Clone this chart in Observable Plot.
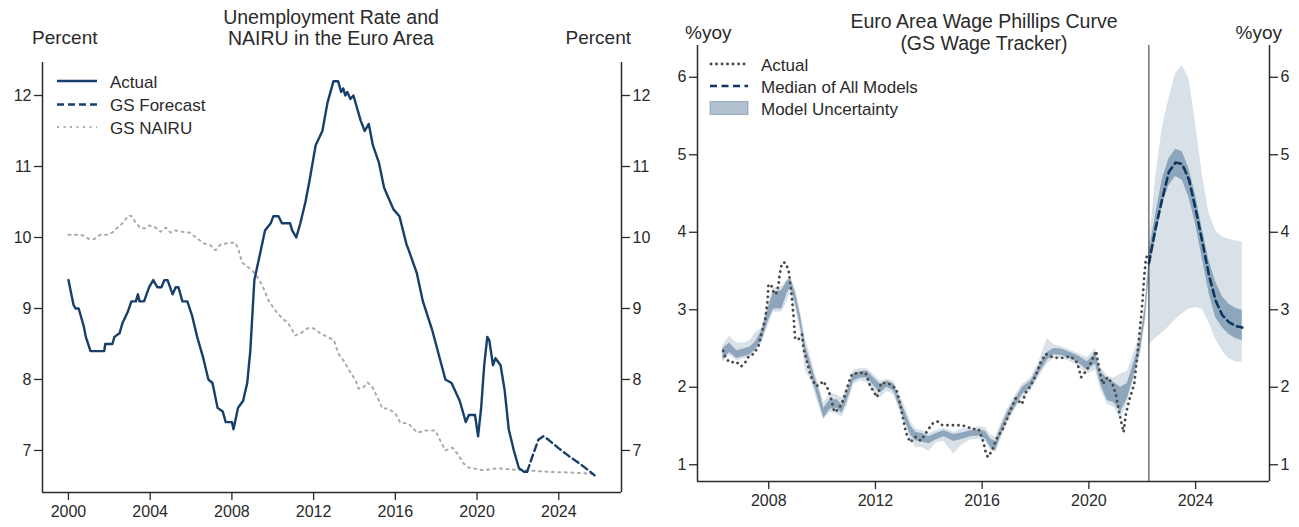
<!DOCTYPE html>
<html><head><meta charset="utf-8">
<script src="https://cdn.jsdelivr.net/npm/d3@7"></script>
<script src="https://cdn.jsdelivr.net/npm/@observablehq/plot@0.6"></script>
<style>
body{margin:0;background:#fff;font-family:"Liberation Sans",Arial,sans-serif;}
#wrap{position:relative;width:1299px;height:527px;overflow:hidden;background:#fff;}
#left{position:absolute;left:0;top:0;}
#right{position:absolute;left:650px;top:0;}
#left svg,#right svg{overflow:visible;}
#overlay{position:absolute;left:0;top:0;pointer-events:none;}
</style></head><body>
<div id="wrap"><div id="left"></div><div id="right"></div>
<svg id="overlay" width="1299" height="527"></svg></div>
<script>
// ---------- Left panel data ----------
const unempDates = [2000.0,2000.25,2000.35,2000.5,2000.75,2000.85,2001.08,2001.75,2001.8,2002.15,2002.25,2002.5,2002.65,2002.9,2003.08,2003.3,2003.4,2003.48,2003.7,2003.95,2004.15,2004.35,2004.55,2004.7,2004.85,2005.1,2005.25,2005.38,2005.58,2005.82,2006.05,2006.3,2006.6,2006.85,2007.05,2007.3,2007.55,2007.7,2008.0,2008.08,2008.3,2008.55,2008.75,2008.9,2009.1,2009.4,2009.62,2009.9,2010.03,2010.28,2010.45,2010.85,2010.95,2011.15,2011.35,2011.6,2011.8,2012.1,2012.43,2012.68,2012.97,2013.2,2013.35,2013.45,2013.55,2013.65,2013.8,2013.95,2014.3,2014.5,2014.7,2014.9,2015.2,2015.45,2015.9,2016.2,2016.55,2016.62,2017.05,2017.35,2017.8,2018.45,2018.75,2019.15,2019.45,2019.6,2019.9,2020.05,2020.2,2020.35,2020.5,2020.6,2020.78,2020.9,2021.15,2021.35,2021.55,2021.8,2022.05,2022.3,2022.45];
const unempValues = [9.4,9.05,9.0,9.0,8.75,8.6,8.4,8.4,8.5,8.5,8.6,8.65,8.8,8.95,9.1,9.1,9.2,9.1,9.1,9.3,9.4,9.3,9.3,9.4,9.4,9.2,9.3,9.3,9.1,9.1,8.9,8.6,8.3,8.0,7.95,7.6,7.55,7.4,7.4,7.3,7.6,7.7,7.95,8.4,9.4,9.8,10.1,10.2,10.3,10.3,10.2,10.2,10.1,10.0,10.2,10.5,10.8,11.3,11.5,11.9,12.2,12.2,12.05,12.1,12.0,12.05,11.95,12.0,11.65,11.5,11.6,11.3,11.05,10.7,10.4,10.3,9.9,9.85,9.5,9.1,8.7,8.0,7.95,7.7,7.4,7.5,7.5,7.2,7.6,8.2,8.6,8.55,8.2,8.3,8.2,7.85,7.3,7.0,6.75,6.7,6.7];
const forecastDates = [2022.45,2022.75,2023.0,2023.25,2023.5,2024.0,2024.5,2025.0,2025.5,2025.75];
const forecastValues = [6.7,6.95,7.15,7.2,7.15,7.03,6.92,6.82,6.71,6.65];
const nairuDates = [2000.0,2000.3,2000.7,2001.0,2001.27,2001.57,2001.9,2002.15,2002.4,2002.64,2002.94,2003.1,2003.3,2003.53,2003.75,2003.96,2004.27,2004.5,2004.76,2005.0,2005.24,2005.58,2005.92,2006.3,2006.6,2006.95,2007.2,2007.44,2007.78,2008.17,2008.33,2008.5,2008.8,2009.15,2009.5,2009.8,2010.13,2010.47,2010.77,2011.1,2011.36,2011.7,2012.0,2012.33,2012.68,2013.0,2013.2,2013.55,2013.8,2014.05,2014.2,2014.44,2014.64,2014.88,2015.12,2015.37,2015.66,2016.0,2016.25,2016.64,2017.08,2017.47,2017.96,2018.2,2018.45,2018.8,2019.1,2019.33,2019.58,2019.82,2020.3,2021.0,2021.78,2022.5,2023.44,2024.5,2025.75];
const nairuValues = [10.04,10.04,10.03,9.98,9.98,10.04,10.04,10.07,10.14,10.2,10.31,10.3,10.21,10.13,10.13,10.17,10.14,10.08,10.14,10.07,10.1,10.08,10.07,9.99,9.92,9.89,9.82,9.9,9.92,9.93,9.82,9.65,9.58,9.49,9.32,9.11,8.97,8.86,8.79,8.62,8.65,8.72,8.72,8.65,8.6,8.55,8.37,8.23,8.1,7.99,7.87,7.89,7.96,7.89,7.75,7.59,7.59,7.52,7.39,7.38,7.25,7.28,7.28,7.14,7.0,7.04,6.93,6.82,6.76,6.75,6.72,6.75,6.73,6.72,6.7,6.69,6.67];
const leftXTicks = [2000,2004,2008,2012,2016,2020,2024];
const leftYTicks = [7,8,9,10,11,12];

// ---------- Right panel data ----------
const wageDates = [2006.29,2006.38,2006.54,2006.78,2006.97,2007.12,2007.25,2007.43,2007.62,2007.74,2007.87,2007.96,2007.99,2008.12,2008.2,2008.3,2008.37,2008.4,2008.49,2008.61,2008.74,2008.8,2008.86,2008.93,2008.99,2009.12,2009.25,2009.31,2009.44,2009.57,2009.75,2009.88,2010.04,2010.19,2010.31,2010.46,2010.63,2010.81,2011.0,2011.12,2011.31,2011.62,2011.8,2012.06,2012.22,2012.55,2012.78,2012.93,2013.05,2013.14,2013.3,2013.51,2013.7,2013.95,2014.13,2014.32,2014.51,2014.82,2015.13,2015.38,2015.63,2015.87,2016.04,2016.12,2016.21,2016.37,2016.53,2016.77,2016.93,2017.08,2017.26,2017.49,2017.63,2017.82,2018.01,2018.19,2018.38,2018.69,2019.0,2019.31,2019.56,2019.71,2019.94,2020.05,2020.27,2020.39,2020.52,2020.7,2020.89,2021.01,2021.1,2021.2,2021.3,2021.39,2021.51,2021.7,2021.82,2021.92,2022.01,2022.07,2022.13,2022.22];
const wageValues = [2.47,2.38,2.32,2.33,2.27,2.32,2.40,2.43,2.53,2.71,2.88,3.13,3.33,3.30,3.20,3.22,3.33,3.43,3.60,3.61,3.52,3.35,3.18,2.92,2.62,2.62,2.68,2.49,2.32,2.15,2.02,2.02,2.08,2.00,1.89,1.68,1.72,1.85,2.06,2.17,2.18,2.19,2.02,1.87,2.06,2.04,1.98,1.78,1.57,1.42,1.29,1.36,1.31,1.44,1.53,1.56,1.51,1.51,1.51,1.50,1.46,1.46,1.30,1.18,1.10,1.18,1.33,1.46,1.59,1.72,1.86,1.78,1.93,2.02,2.15,2.32,2.43,2.38,2.38,2.40,2.32,2.13,2.23,2.30,2.47,2.23,2.04,2.13,2.04,1.91,1.74,1.57,1.42,1.66,1.83,2.04,2.43,2.77,3.11,3.41,3.63,3.75];

const histBandDates = [2006.28,2006.53,2006.8,2007.12,2007.3,2007.49,2007.74,2007.99,2008.18,2008.49,2008.68,2008.82,2009.0,2009.19,2009.38,2009.57,2009.75,2009.94,2010.06,2010.31,2010.56,2010.75,2010.94,2011.19,2011.44,2011.69,2011.94,2012.19,2012.43,2012.69,2012.82,2013.07,2013.32,2013.51,2013.76,2014.01,2014.26,2014.57,2014.94,2015.26,2015.57,2015.88,2016.13,2016.32,2016.51,2016.69,2016.94,2017.25,2017.51,2017.82,2018.13,2018.44,2018.69,2019.0,2019.31,2019.63,2019.94,2020.25,2020.44,2020.69,2020.94,2021.19,2021.44,2021.69,2021.94,2022.12,2022.25];
const histOuterLo = [2.32,2.42,2.34,2.37,2.39,2.45,2.57,2.80,2.97,2.97,3.10,3.22,3.02,2.70,2.20,2.10,1.90,1.70,1.58,1.68,1.65,1.62,1.76,2.04,2.08,2.06,1.94,1.86,1.95,1.90,1.78,1.55,1.33,1.22,1.22,1.17,1.28,1.30,1.14,1.26,1.32,1.33,1.30,1.18,1.16,1.32,1.52,1.72,1.86,1.95,2.13,2.30,2.37,2.37,2.33,2.26,2.17,2.22,1.96,1.78,1.74,1.59,1.78,2.10,2.42,2.85,3.35];
const histInnerLo = [2.35,2.45,2.37,2.40,2.42,2.48,2.60,2.86,3.01,3.01,3.20,3.29,3.09,2.78,2.40,2.19,1.97,1.75,1.60,1.72,1.73,1.66,1.82,2.08,2.12,2.12,2.02,1.93,2.00,1.95,1.82,1.60,1.38,1.31,1.29,1.27,1.32,1.36,1.30,1.33,1.36,1.37,1.33,1.22,1.18,1.36,1.57,1.75,1.91,1.99,2.17,2.35,2.42,2.41,2.37,2.31,2.22,2.30,2.04,1.83,1.80,1.68,1.85,2.15,2.48,2.90,3.40];
const histInnerHi = [2.50,2.57,2.47,2.50,2.52,2.58,2.73,3.03,3.23,3.25,3.36,3.40,3.22,2.92,2.54,2.32,2.11,1.90,1.73,1.84,1.84,1.77,1.94,2.18,2.20,2.21,2.12,2.04,2.08,2.04,1.92,1.72,1.50,1.42,1.40,1.36,1.40,1.44,1.39,1.41,1.44,1.45,1.43,1.33,1.30,1.47,1.67,1.85,2.00,2.08,2.27,2.45,2.50,2.49,2.45,2.40,2.33,2.44,2.20,2.11,2.06,2.00,2.05,2.32,2.62,3.05,3.62];
const histOuterHi = [2.54,2.66,2.57,2.57,2.60,2.70,2.76,3.10,3.28,3.30,3.38,3.43,3.26,2.98,2.62,2.40,2.17,1.96,1.80,1.92,1.90,1.86,2.00,2.22,2.24,2.24,2.16,2.08,2.10,2.08,1.96,1.78,1.56,1.46,1.44,1.40,1.44,1.47,1.42,1.46,1.47,1.49,1.48,1.38,1.36,1.52,1.72,1.90,2.04,2.12,2.33,2.63,2.55,2.52,2.48,2.43,2.38,2.50,2.26,2.15,2.12,2.17,2.20,2.45,2.70,3.15,3.70];

const fcDates = [2022.25,2022.5,2022.75,2023.0,2023.25,2023.5,2023.75,2024.0,2024.25,2024.5,2024.75,2025.0,2025.25,2025.5,2025.75];
const fcOuterLo = [2.54,2.63,2.70,2.78,2.87,2.95,3.01,3.03,3.01,2.84,2.62,2.47,2.37,2.33,2.32];
const fcInnerLo = [3.49,3.92,4.35,4.60,4.72,4.67,4.45,4.10,3.66,3.22,2.90,2.77,2.68,2.63,2.60];
const fcInnerHi = [3.74,4.22,4.68,4.95,5.07,5.04,4.82,4.48,4.04,3.64,3.36,3.17,3.07,3.02,2.99];
const fcOuterHi = [3.79,4.70,5.35,5.72,6.05,6.15,5.98,5.40,4.75,4.25,4.02,3.94,3.91,3.89,3.87];
const fcMedian = [3.60,4.05,4.43,4.78,4.90,4.88,4.68,4.30,3.88,3.45,3.12,2.93,2.84,2.79,2.77];
const forecastStart = 2022.25;
const rightXTicks = [2008,2012,2016,2020,2024];
const rightYTicks = [1,2,3,4,5,6];

// ---------- helpers ----------
const pts = (xs, ys) => xs.map((x, i) => ({x, y: ys[i]}));
const band = (xs, lo, hi) => xs.map((x, i) => ({x, lo: lo[i], hi: hi[i]}));
const FONT = '"Liberation Sans", Arial, sans-serif';
const INK = "#2a2a2a";
const NAVY = "#163f6b";
const BANDC = "#1f4e79";
const DOTC = "#484848";
const plainFmt = d => String(d);

function axes(xTicks, yTicks, xd, yd) {
  const common = {tickSize: 8, fontSize: 16, stroke: INK, strokeWidth: 1.3, label: null, fill: INK, tickFormat: plainFmt};
  return [
    Plot.ruleX([xd[0], xd[1]], {stroke: INK, strokeWidth: 1.5}),
    Plot.ruleY([yd[0]], {stroke: INK, strokeWidth: 1.5}),
    Plot.axisY({...common, anchor: "left", ticks: yTicks, tickPadding: 3}),
    Plot.axisY({...common, anchor: "right", ticks: yTicks, tickPadding: 3}),
    Plot.axisX({...common, anchor: "bottom", ticks: xTicks, tickPadding: 5})
  ];
}

// ---------- Left chart ----------
const lxd = [1998.73, 2027.07], lyd = [6.408, 12.465];
const left = Plot.plot({
  width: 650, height: 527,
  marginLeft: 42, marginRight: 29, marginTop: 62, marginBottom: 35,
  style: {fontFamily: FONT, fontSize: "16px", color: INK, background: "transparent", overflow: "visible"},
  x: {domain: lxd, label: null},
  y: {domain: lyd, label: null},
  marks: [
    Plot.line(pts(nairuDates, nairuValues), {x: "x", y: "y", stroke: "#ababab", strokeWidth: 2, strokeDasharray: "2 4.5"}),
    Plot.line(pts(forecastDates, forecastValues), {x: "x", y: "y", stroke: NAVY, strokeWidth: 2.4, strokeDasharray: "7 4"}),
    Plot.line(pts(unempDates, unempValues), {x: "x", y: "y", stroke: NAVY, strokeWidth: 2.4, strokeLinejoin: "round"}),
    ...axes(leftXTicks, leftYTicks, lxd, lyd)
  ]
});
document.getElementById("left").append(left);

// ---------- Right chart ----------
const rxd = [2005.33, 2026.77], ryd = [0.784, 6.41];
const right = Plot.plot({
  width: 649, height: 527,
  marginLeft: 47, marginRight: 30, marginTop: 45, marginBottom: 46,
  style: {fontFamily: FONT, fontSize: "16px", color: INK, background: "transparent", overflow: "visible"},
  x: {domain: rxd, label: null},
  y: {domain: ryd, label: null},
  marks: [
    Plot.areaY(band(histBandDates, histOuterLo, histOuterHi), {x: "x", y1: "lo", y2: "hi", fill: BANDC, fillOpacity: 0.17}),
    Plot.areaY(band(fcDates, fcOuterLo, fcOuterHi), {x: "x", y1: "lo", y2: "hi", fill: BANDC, fillOpacity: 0.17}),
    Plot.areaY(band(histBandDates, histInnerLo, histInnerHi), {x: "x", y1: "lo", y2: "hi", fill: BANDC, fillOpacity: 0.4}),
    Plot.areaY(band(fcDates, fcInnerLo, fcInnerHi), {x: "x", y1: "lo", y2: "hi", fill: BANDC, fillOpacity: 0.4}),
    Plot.line(pts(wageDates, wageValues), {x: "x", y: "y", stroke: DOTC, strokeWidth: 2.8, strokeDasharray: "0.1 5.4", strokeLinecap: "round"}),
    Plot.line(pts(fcDates, fcMedian), {x: "x", y: "y", stroke: "#0c355f", strokeWidth: 2.6, strokeDasharray: "7 4.5"}),
    Plot.ruleX([forecastStart], {stroke: INK, strokeWidth: 1}),
    ...axes(rightXTicks, rightYTicks, rxd, ryd)
  ]
});
document.getElementById("right").append(right);

// ---------- Titles, unit labels, legends (overlay) ----------
const ov = d3.select("#overlay").style("font-family", FONT);
function txt(x, y, s, size, anchor = "start") {
  ov.append("text").attr("x", x).attr("y", y).attr("text-anchor", anchor)
    .attr("font-size", size).attr("fill", INK).text(s);
}
txt(331, 24, "Unemployment Rate and", 19.5, "middle");
txt(331, 45, "NAIRU in the Euro Area", 19.5, "middle");
txt(32, 44, "Percent", 19);
txt(631, 44, "Percent", 19, "end");
txt(984, 28, "Euro Area Wage Phillips Curve", 19.5, "middle");
txt(984, 50, "(GS Wage Tracker)", 19.5, "middle");
txt(685, 39, "%yoy", 19);
txt(1282, 39, "%yoy", 19, "end");

function legLine(x1, x2, y, stroke, w, dash, cap) {
  ov.append("line").attr("x1", x1).attr("x2", x2).attr("y1", y).attr("y2", y)
    .attr("stroke", stroke).attr("stroke-width", w).attr("stroke-dasharray", dash || null)
    .attr("stroke-linecap", cap || null);
}
// left legend
legLine(57, 97, 81, NAVY, 2.4);
txt(110, 87.5, "Actual", 17);
legLine(57, 97, 104.5, NAVY, 2.4, "7 4");
txt(110, 111, "GS Forecast", 17);
legLine(57, 97, 127, "#ababab", 2, "2 4.5");
txt(110, 133.5, "GS NAIRU", 17);
// right legend
legLine(711, 748, 64, DOTC, 2.8, "0.1 5.4", "round");
txt(761, 70.5, "Actual", 17);
legLine(710, 748, 86, "#0c355f", 2.6, "7 4.5");
txt(761, 92.5, "Median of All Models", 17);
ov.append("rect").attr("x", 710).attr("y", 101.5).attr("width", 38).attr("height", 13)
  .attr("fill", BANDC).attr("fill-opacity", 0.35).attr("stroke", BANDC).attr("stroke-opacity", 0.35);
txt(761, 114.5, "Model Uncertainty", 17);
</script></body></html>
